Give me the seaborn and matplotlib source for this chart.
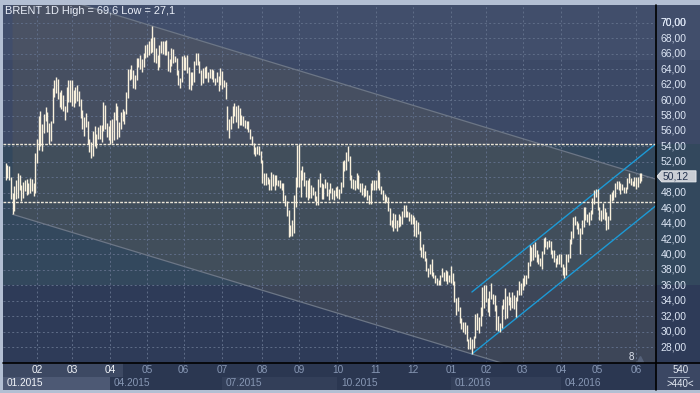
import numpy as np
import pandas as pd
import matplotlib
matplotlib.use('Agg')
import matplotlib.pyplot as plt
from matplotlib.patches import Polygon, Rectangle
from matplotlib.lines import Line2D
import seaborn as sns

# Daily bars (low, high), one list per month
m15_01 = [(49.7, 51.9), (49.9, 51.6), (49.7, 51.5), (47.2, 50.0), (45.2, 48.0), (45.6, 48.9),
          (47.2, 49.6), (47.3, 50.5), (48.4, 50.3), (46.9, 49.0), (47.3, 49.4), (48.2, 49.6),
          (47.7, 49.8), (47.8, 49.3), (47.9, 49.9), (48.2, 49.8), (47.6, 49.2), (47.9, 53.1)]
m15_02 = [(51.9, 54.9), (53.6, 58.0), (54.0, 58.6), (53.4, 56.9), (55.8, 58.2), (57.3, 59.1),
          (55.9, 58.4), (54.3, 57.0), (54.7, 57.3), (57.0, 61.6), (60.4, 62.6), (60.9, 63.0),
          (60.2, 62.8), (59.1, 61.1), (58.8, 61.3), (58.6, 60.7), (57.4, 59.3), (58.5, 61.7),
          (59.8, 62.6), (59.8, 62.6)]
m15_03 = [(59.3, 62.6), (59.1, 61.3), (59.6, 61.7), (59.9, 61.9), (59.3, 61.2), (57.7, 60.2),
          (56.2, 58.7), (55.4, 57.8), (56.5, 58.3), (54.3, 57.3), (53.3, 54.9), (52.5, 54.6),
          (52.7, 56.0), (54.1, 56.6), (53.8, 55.6), (55.0, 56.5), (54.9, 56.8), (54.6, 56.8),
          (56.0, 59.7), (56.2, 59.4), (55.2, 57.0), (54.8, 56.6)]
m15_04 = [(54.3, 57.4), (54.4, 57.6), (54.8, 58.5), (57.4, 59.6), (55.0, 59.3), (55.2, 57.2),
          (56.3, 58.4), (57.3, 58.8), (56.9, 58.6), (58.2, 61.0), (60.3, 64.0), (62.6, 64.0),
          (62.8, 64.6), (61.6, 63.9), (61.4, 63.3), (62.6, 65.4), (64.3, 65.4), (64.0, 65.9),
          (63.7, 65.3), (64.3, 66.1), (65.4, 67.1)]
m15_05 = [(65.6, 67.3), (65.8, 67.6), (66.1, 68.1), (66.3, 69.6), (64.9, 68.2), (64.8, 66.7),
          (63.9, 65.9), (64.3, 67.1), (66.1, 67.6), (66.0, 67.6), (65.9, 67.6), (65.9, 67.8),
          (63.8, 66.4), (63.6, 65.3), (64.4, 66.7), (64.8, 66.6), (64.9, 65.7), (63.3, 65.4),
          (61.9, 63.9), (61.6, 62.9), (62.4, 65.7)]
m15_06 = [(63.9, 65.8), (63.9, 65.6), (63.5, 65.8), (61.5, 64.3), (61.3, 63.7), (62.0, 63.6),
          (62.3, 65.1), (64.5, 66.1), (64.6, 66.1), (63.5, 65.1), (62.0, 63.9), (62.2, 64.1),
          (62.9, 64.3), (62.9, 64.4), (62.4, 63.7), (62.9, 64.0), (62.7, 64.0), (62.3, 63.9),
          (61.9, 62.9), (62.3, 63.7), (61.2, 63.1), (62.0, 64.1)]
m15_07 = [(61.5, 63.8), (61.7, 62.6), (60.2, 62.3), (56.1, 59.2), (55.1, 57.5), (56.3, 58.0),
          (57.0, 59.3), (57.9, 59.6), (57.2, 59.3), (56.4, 59.4), (56.8, 59.0), (56.8, 58.1),
          (56.6, 58.0), (56.4, 57.4), (56.2, 57.3), (55.9, 57.3), (55.0, 56.3), (54.2, 55.4),
          (53.0, 54.5), (52.8, 53.9), (53.0, 54.0), (52.9, 54.0), (51.8, 53.4)]
m15_08 = [(49.3, 52.3), (49.0, 50.6), (49.0, 50.5), (49.1, 50.0), (48.4, 49.8), (48.3, 50.7),
          (48.9, 50.4), (48.4, 50.3), (49.0, 50.3), (48.9, 49.6), (48.6, 49.6), (48.3, 49.3),
          (46.9, 49.2), (46.3, 47.7), (45.0, 46.9), (42.2, 45.7), (42.4, 43.8), (42.4, 44.4),
          (42.8, 47.7), (46.2, 50.1), (48.8, 54.2)]
m15_09 = [(48.8, 54.3), (47.4, 50.9), (49.7, 51.5), (48.9, 50.7), (47.4, 49.7), (47.1, 49.7),
          (47.3, 49.9), (47.3, 49.0), (47.7, 48.8), (46.9, 48.2), (46.4, 47.6), (46.4, 49.8),
          (48.7, 50.5), (47.2, 49.2), (47.2, 49.1), (48.6, 49.8), (47.6, 49.4), (47.1, 48.5),
          (47.9, 49.2), (47.2, 48.6), (47.1, 48.4), (47.6, 48.8)]
m15_10 = [(47.3, 48.9), (47.2, 48.5), (47.9, 49.4), (48.8, 52.1), (50.8, 52.3), (50.9, 53.3),
          (52.1, 54.0), (49.7, 52.7), (48.6, 50.3), (48.5, 49.8), (48.3, 49.6), (48.6, 50.5),
          (48.5, 50.3), (48.1, 49.3), (47.7, 49.2), (47.5, 48.6), (47.6, 49.0), (47.1, 48.3),
          (46.6, 47.7), (46.6, 49.3), (48.4, 49.6), (48.4, 49.7)]
m15_11 = [(48.4, 49.7), (48.6, 50.9), (48.4, 50.7), (47.8, 48.9), (47.1, 48.4), (46.7, 47.8),
          (46.8, 47.6), (45.6, 47.4), (43.8, 46.0), (43.5, 44.5), (43.1, 45.4), (43.4, 45.2),
          (43.1, 44.4), (43.6, 45.2), (43.7, 45.0), (43.9, 45.6), (44.8, 46.4), (44.9, 46.4),
          (44.8, 45.6), (44.3, 45.5), (44.0, 45.2)]
m15_12 = [(43.9, 45.1), (42.4, 44.9), (42.2, 44.4), (42.7, 44.2), (40.6, 43.0), (39.7, 41.0),
          (39.6, 41.3), (39.1, 40.5), (37.8, 39.5), (37.1, 38.2), (37.5, 38.7), (37.2, 39.4),
          (36.9, 37.7), (36.3, 37.3), (36.0, 36.9), (36.0, 36.7), (36.1, 37.4), (37.1, 38.2),
          (36.5, 37.7), (36.6, 38.0), (36.2, 37.9), (36.4, 37.4)]
m16_01 = [(36.3, 38.5), (36.0, 37.6), (33.9, 36.5), (32.2, 34.4), (32.7, 34.5), (31.1, 33.2),
          (30.4, 31.8), (30.0, 31.3), (29.7, 31.3), (28.8, 30.8), (27.7, 29.1), (27.7, 29.3),
          (27.1, 29.0), (27.9, 29.4), (29.2, 32.3), (30.2, 32.4), (29.8, 31.9), (30.7, 33.2),
          (32.0, 35.8), (33.1, 36.0)]
m16_02 = [(33.9, 36.0), (32.5, 34.3), (32.0, 35.2), (34.2, 36.3), (33.6, 34.9), (32.7, 34.8),
          (30.2, 33.5), (30.1, 32.0), (29.9, 31.1), (30.5, 33.4), (32.9, 34.2), (31.6, 35.6),
          (31.7, 34.6), (33.5, 35.1), (32.8, 34.5), (33.0, 35.1), (32.9, 34.8), (31.9, 34.5),
          (34.0, 35.4), (34.7, 36.5), (34.8, 36.3)]
m16_03 = [(35.4, 36.9), (35.9, 37.3), (36.2, 37.4), (36.9, 39.0), (38.5, 41.2), (39.1, 41.0),
          (39.3, 41.3), (39.7, 41.6), (39.0, 40.6), (38.7, 40.0), (38.5, 39.6), (38.1, 40.5),
          (40.1, 42.1), (41.0, 42.2), (40.7, 41.8), (40.9, 41.9), (40.0, 41.8), (39.6, 40.6),
          (39.0, 40.6), (38.4, 39.6), (38.8, 39.9), (38.8, 40.0)]
m16_04 = [(38.4, 40.0), (37.3, 38.8), (37.0, 38.4), (37.4, 40.0), (39.0, 40.0), (39.6, 42.0),
          (41.4, 43.0), (42.1, 44.8), (43.8, 45.0), (43.3, 44.3), (42.7, 44.1), (40.1, 43.4),
          (42.6, 44.4), (43.5, 46.1), (44.5, 46.1), (44.2, 45.3), (43.8, 45.5), (44.4, 45.8),
          (45.3, 47.3), (46.6, 48.4), (47.4, 48.5)]
m16_05 = [(45.7, 48.5), (44.4, 46.1), (44.3, 45.7), (44.6, 46.7), (44.4, 46.0), (43.2, 45.5),
          (43.3, 45.0), (44.5, 47.8), (46.9, 48.1), (47.0, 48.3), (47.5, 49.2), (48.5, 49.5),
          (48.3, 49.5), (47.8, 49.3), (48.3, 49.1), (47.9, 48.8), (47.9, 48.8), (48.5, 49.9),
          (49.3, 50.5), (49.0, 49.9), (48.9, 49.5), (48.9, 50.0)]
m16_06 = [(48.5, 50.0), (48.7, 50.0), (49.2, 50.5), (49.5, 50.6)]

months = [m15_01, m15_02, m15_03, m15_04, m15_05, m15_06, m15_07, m15_08, m15_09,
          m15_10, m15_11, m15_12, m16_01, m16_02, m16_03, m16_04, m16_05, m16_06]
month_labels = ['01', '02', '03', '04', '05', '06', '07', '08', '09', '10', '11', '12',
                '01', '02', '03', '04', '05', '06']
quarter_labels = ['01.2015', '04.2015', '07.2015', '10.2015', '01.2016', '04.2016']
price_ticks = list(range(28, 72, 2))
levels = [54.3, 46.76]
last_price = 50.12
title = 'BRENT 1D High = 69,6 Low = 27,1'

rows = []
for m, bars in enumerate(months):
    for lo, hi in bars:
        rows.append((m, lo, hi))
df = pd.DataFrame(rows, columns=['month', 'low', 'high'])
df['idx'] = np.arange(len(df))
month_start = df.groupby('month')['idx'].min().values

# Channels: grey one through the two main lows, parallel through the top
i_low15 = df.loc[df['month'] == 0, 'low'].idxmin()
i_low16 = df['low'].idxmin()
i_high = df['high'].idxmax()
slope_g = (df.low[i_low16] - df.low[i_low15]) / (i_low16 - i_low15)
off_g = df.high[i_high] - (df.low[i_low15] + slope_g * (i_high - i_low15))
# blue rising channel from the 2016 low
slope_b = 0.1824
off_b = 8.03

XMIN, XMAX = -1.47, 372.4
YMIN, YMAX = 25.93, 72.33

BG = ['#2e3b58', '#33485d', '#3c4966', '#414e6b']
BANDS = [(YMIN - 5, 36.0), (36.0, 54.3), (54.3, 65.2), (65.2, YMAX + 5)]
BAR = '#f8f0dc'
GRID = '#5f6d88'
TXT = '#dde6f5'

sns.set_style('dark')
plt.rcParams['font.family'] = ['Liberation Sans', 'DejaVu Sans']

W, H = 700, 393
fig = plt.figure(figsize=(7, 3.93), dpi=100, facecolor='#b3bfd3')
ax = fig.add_axes([3 / W, 30 / H, 653 / W, 358 / H])
axr = fig.add_axes([656 / W, 30 / H, 44 / W, 358 / H])
axb = fig.add_axes([3 / W, 3 / H, 653 / W, 27 / H])
axc = fig.add_axes([656 / W, 3 / H, 44 / W, 27 / H])

for a in (ax, axr):
    a.set_ylim(YMIN, YMAX)
    for (y0, y1), c in zip(BANDS, BG):
        a.axhspan(y0, y1, color=c, lw=0, zorder=0)
for a in (ax, axr, axb, axc):
    a.set_xticks([]); a.set_yticks([])
    for s in a.spines.values():
        s.set_visible(False)
ax.set_xlim(XMIN, XMAX)
axb.set_xlim(XMIN, XMAX)
axr.set_xlim(0, 1)

# grey channel fill
x0 = i_low15
low_line = lambda x: df.low[i_low15] + slope_g * (x - i_low15)
poly = Polygon([(x0, low_line(x0)), (XMAX, low_line(XMAX)),
                (XMAX, low_line(XMAX) + off_g), (x0, low_line(x0) + off_g)],
               closed=True, facecolor='#5a5a5a', alpha=0.36, lw=0, zorder=1)
ax.add_patch(poly)

# grid
for p in price_ticks:
    ax.axhline(p, color=GRID, lw=0.7, ls=(0, (2, 2.5)), zorder=2)
for s in month_start[1:]:
    ax.axvline(s, color=GRID, lw=0.7, ls=(0, (2, 2.5)), zorder=2)

# channel lines
xs = np.array([x0, XMAX])
sns.lineplot(x=xs, y=low_line(xs), ax=ax, color='#6c7686', lw=0.9, zorder=3)
sns.lineplot(x=xs, y=low_line(xs) + off_g, ax=ax, color='#6c7686', lw=0.9, zorder=3)
xb = np.array([i_low16, XMAX])
yb = df.low[i_low16] + slope_b * (xb - i_low16)
sns.lineplot(x=xb, y=yb, ax=ax, color='#1c9ad6', lw=1, zorder=3)
sns.lineplot(x=xb, y=yb + off_b, ax=ax, color='#1c9ad6', lw=1, zorder=3)

for lv in levels:
    ax.axhline(lv, color='#ece6d8', lw=1, ls=(0, (2, 1)), zorder=3)

ax.vlines(df['idx'], df['low'], df['high'], color=BAR, lw=1.0, zorder=4)

ax.text(0.003, 0.982, title, transform=ax.transAxes, ha='left', va='center',
        fontsize=7.9, color='#e9eef8', family=['Liberation Sans Narrow', 'Liberation Sans'])
ax.text(0.962, 0.018, '8', transform=ax.transAxes, ha='center', va='center',
        fontsize=7, color='#dde3ee')
ax.plot([0.976], [0.012], marker='^', ms=5, color='#56627a', transform=ax.transAxes,
        zorder=5)

# right price axis
for p in price_ticks + [70]:
    if p == 50:
        continue
    axr.text(0.11, p, f'{p:.2f}'.replace('.', ','), ha='left', va='center',
             fontsize=7.5, color=TXT)
tag = Polygon([(0.02, last_price), (0.13, last_price + 0.72), (0.91, last_price + 0.72),
               (0.91, last_price - 0.72), (0.13, last_price - 0.72)],
              closed=True, facecolor='#c9cdd4', edgecolor='#eceef2', lw=0.6, zorder=5)
axr.add_patch(tag)
axr.text(0.15, last_price, f'{last_price:.2f}'.replace('.', ','), ha='left',
         va='center', fontsize=7.5, color='#24334f', zorder=6)

# bottom time axis
axb.set_facecolor('#2b3751')
axb.set_ylim(0, 1)
axb.add_patch(Rectangle((0, 0.5), 120 / 653, 0.5, transform=axb.transAxes,
                        facecolor='#3d4963', lw=0))
q_starts = [XMIN] + [month_start[i] for i in (3, 6, 9, 12, 15)] + [XMAX]
q_cols = ['#4d5974', '#2b3751', '#333f59', '#2b3751', '#333f59', '#2b3751']
for i, lab in enumerate(quarter_labels):
    axb.add_patch(Rectangle((q_starts[i], 0), q_starts[i + 1] - q_starts[i], 0.5,
                            facecolor=q_cols[i], lw=0))
    axb.text(q_starts[i] + 2, 0.26, lab, ha='left', va='center', fontsize=7.3,
             color='#f2f5fa' if i == 0 else '#8797b4')
for s, lab in zip(month_start[1:], month_labels[1:]):
    axb.text(s, 0.74, lab, ha='center', va='center', fontsize=7.3,
             color='#f2f5fa' if s < 63 else '#8797b4')

axc.set_facecolor('#3b4763')
axc.text(0.55, 0.74, '540', ha='center', va='center', fontsize=7, color='#e6ecf5',
         transform=axc.transAxes)
axc.plot([0.28, 0.74], [0.48, 0.48], color='#aab5c8', lw=0.6, transform=axc.transAxes)
axc.text(0.55, 0.24, '>440<', ha='center', va='center', fontsize=7, color='#e6ecf5',
         transform=axc.transAxes)

fig.add_artist(Line2D([3 / W, 1], [30 / H, 30 / H], color='black', lw=1.2))
fig.add_artist(Line2D([656 / W, 656 / W], [3 / H, 388 / H], color='black', lw=1.2))

fig.savefig('out.png', dpi=100, facecolor=fig.get_facecolor())
